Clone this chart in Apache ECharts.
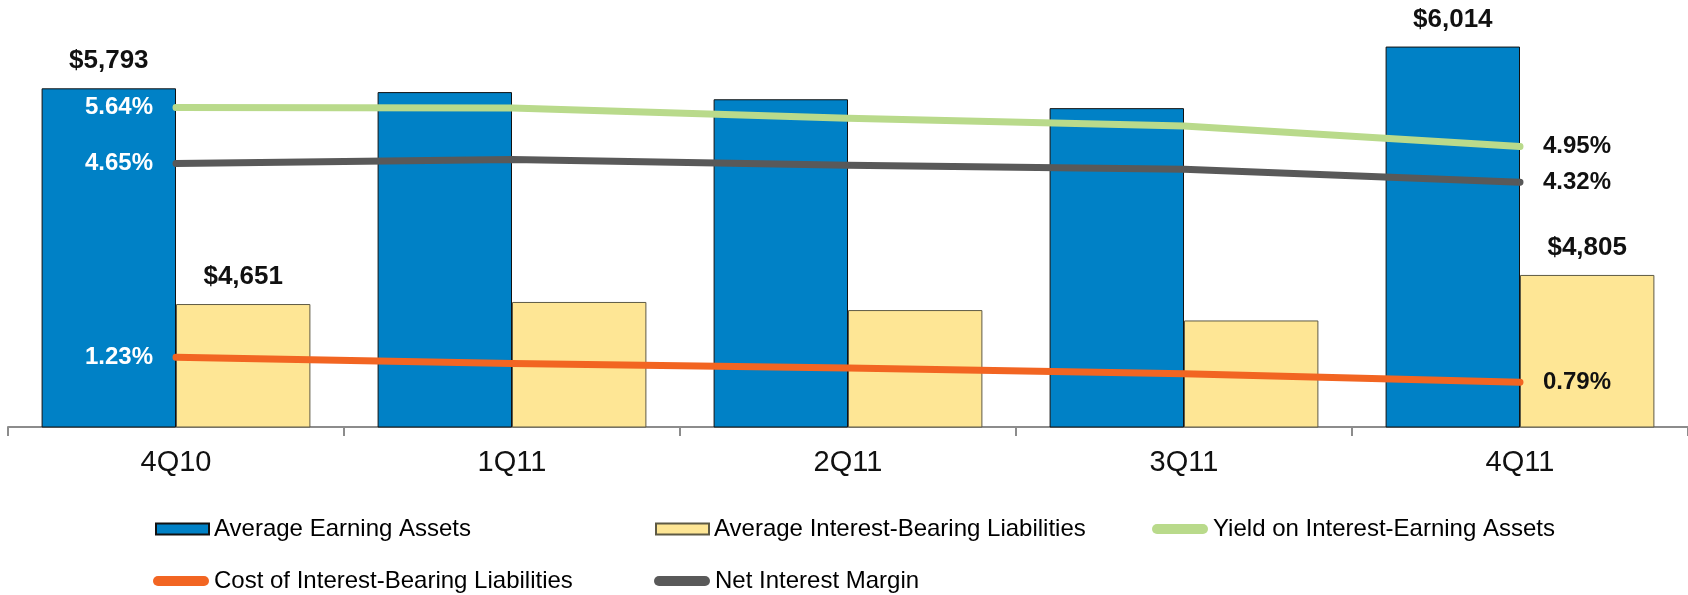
<!DOCTYPE html>
<html>
<head>
<meta charset="utf-8">
<title>Earning Assets, Liabilities and Margins</title>
<script src="https://cdn.jsdelivr.net/npm/echarts@6/dist/echarts.min.js"></script>
<style>
  html, body { margin: 0; padding: 0; background: #fff; }
  #chart { width: 1688px; height: 595px; }
</style>
</head>
<body>
<div id="chart"></div>
<script>
// Quarterly data ($ millions and percentages)
const quarters = ['4Q10', '1Q11', '2Q11', '3Q11', '4Q11'];
const avgEarningAssets = [5793, 5773, 5735, 5688, 6014];
const avgInterestBearingLiabilities = [4651, 4662, 4619, 4564, 4805];
const yieldOnEarningAssets = [5.64, 5.63, 5.45, 5.31, 4.95];
const costOfLiabilities = [1.23, 1.12, 1.04, 0.94, 0.79];
const netInterestMargin = [4.65, 4.72, 4.62, 4.55, 4.32];

const FONT = "'Liberation Sans', Arial, sans-serif";
const last = quarters.length - 1;

const money = v => '$' + Math.round(v).toLocaleString('en-US');
const pct = v => v.toFixed(2) + '%';

// Bars: value labels only on the first and last quarter
function barData(values) {
  return values.map((v, i) => ({
    value: v,
    label: { show: i === 0 || i === last }
  }));
}

// Lines: white label inside the first bar, dark label after the last point
function lineData(values) {
  return values.map((v, i) => {
    if (i === 0) return { value: v, label: { show: true, position: 'left', distance: 20, color: '#ffffff' } };
    if (i === last) return { value: v, label: { show: true, position: 'right', distance: 20, color: '#111111' } };
    return { value: v, label: { show: false } };
  });
}

const barLabel = {
  position: 'top',
  distance: 14,
  color: '#111111',
  fontFamily: FONT,
  fontWeight: 'bold',
  fontSize: 26,
  formatter: p => money(p.value)
};

const lineLabel = {
  fontFamily: FONT,
  fontWeight: 'bold',
  fontSize: 24,
  formatter: p => pct(p.value)
};

function lineSeries(name, values, color) {
  return {
    name: name,
    type: 'line',
    yAxisIndex: 1,
    data: lineData(values),
    symbol: 'circle',
    symbolSize: 6,
    showSymbol: true,
    silent: true,
    z: 5,
    lineStyle: { color: color, width: 7, cap: 'round', join: 'round' },
    itemStyle: { color: color, borderWidth: 0 },
    label: lineLabel,
    emphasis: { disabled: true }
  };
}

const pill = 'path://M5,0H51A5,5,0,0,1,51,10H5A5,5,0,0,1,5,0Z';

function legendItem(name, left, top, isLine) {
  return {
    data: [name],
    left: left,
    top: top,
    padding: 0,
    itemWidth: isLine ? 56 : 53,
    itemHeight: isLine ? 10 : 11,
    icon: isLine ? pill : 'rect',
    selectedMode: false,
    textStyle: { fontFamily: FONT, fontSize: 24, color: '#000000' }
  };
}

const chart = echarts.init(document.getElementById('chart'), null, { renderer: 'canvas' });

chart.setOption({
  backgroundColor: '#ffffff',
  animation: false,
  grid: { left: 8, right: 0, top: 2, bottom: 168, containLabel: false },
  legend: [
    legendItem('Average Earning Assets', 155, 517, false),
    legendItem('Average Interest-Bearing Liabilities', 655, 517, false),
    legendItem('Yield on Interest-Earning Assets', 1152, 517, true),
    legendItem('Cost of Interest-Bearing Liabilities', 153, 569, true),
    legendItem('Net Interest Margin', 654, 569, true)
  ],
  xAxis: {
    type: 'category',
    data: quarters,
    boundaryGap: true,
    axisLine: { show: true, lineStyle: { color: '#8c8c8c', width: 2 } },
    axisTick: { show: true, length: 9, lineStyle: { color: '#8c8c8c', width: 2 } },
    axisLabel: { color: '#111111', fontFamily: FONT, fontSize: 29, margin: 21 },
    splitLine: { show: false }
  },
  yAxis: [
    { type: 'value', min: 4000, max: 6250, show: false, splitLine: { show: false } },
    { type: 'value', min: 0, max: 7.5, show: false, splitLine: { show: false } }
  ],
  series: [
    {
      name: 'Average Earning Assets',
      type: 'bar',
      data: barData(avgEarningAssets),
      barGap: '0%',
      barCategoryGap: '20%',
      itemStyle: { color: '#0081c6', borderColor: '#111111', borderWidth: 1 },
      label: barLabel,
      silent: true,
      z: 2
    },
    {
      name: 'Average Interest-Bearing Liabilities',
      type: 'bar',
      data: barData(avgInterestBearingLiabilities),
      barGap: '0%',
      barCategoryGap: '20%',
      itemStyle: { color: '#fee695', borderColor: '#5e5a45', borderWidth: 1 },
      label: barLabel,
      silent: true,
      z: 2
    },
    lineSeries('Yield on Interest-Earning Assets', yieldOnEarningAssets, '#b9da8b'),
    lineSeries('Cost of Interest-Bearing Liabilities', costOfLiabilities, '#f26522'),
    lineSeries('Net Interest Margin', netInterestMargin, '#595959')
  ]
});
</script>
</body>
</html>
